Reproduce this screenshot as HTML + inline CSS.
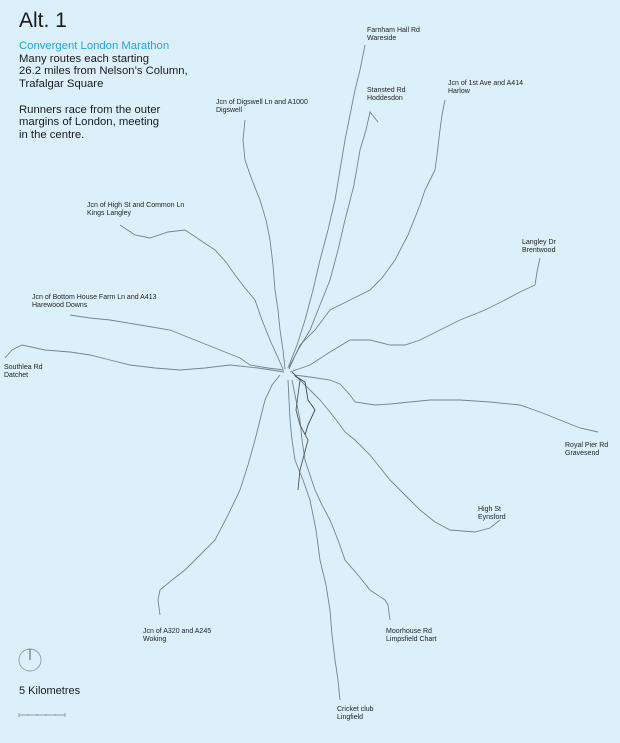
<!DOCTYPE html>
<html><head><meta charset="utf-8"><style>
html,body{margin:0;padding:0;background:#dcf0fb;}
body{width:620px;height:743px;position:relative;overflow:hidden;font-family:"Liberation Sans",sans-serif;color:#1a1a1a;}
.t{position:absolute;white-space:nowrap;}
.l{position:absolute;font-size:7px;line-height:8px;white-space:nowrap;color:#222;}
</style></head><body>
<div class="t" style="left:19px;top:9px;font-size:21px;">Alt. 1</div>
<div class="t" style="left:19px;top:40px;font-size:11.3px;line-height:12.7px;"><span style="color:#1aa8e6">Convergent London Marathon</span><br>Many routes each starting<br>26.2 miles from Nelson’s Column,<br>Trafalgar Square<br><br>Runners race from the outer<br>margins of London, meeting<br>in the centre.</div>
<svg width="620" height="743" style="position:absolute;left:0;top:0" fill="none" stroke="#75838a" stroke-width="0.9">
<polyline points="365,45 360,70 355,90 350,115 345,140 340,170 335,200 328,230 320,260 313,290 305,320 297,345 288,368"/>
<polyline points="378,122 370,112 366,130 360,150 354,185 345,220 338,250 330,280 320,305 310,330 298,350 289,367"/>
<polyline points="445,100 442,115 440,130 437,155 435,170 425,190 420,205 408,235 395,260 382,278 370,290 350,300 330,310 315,330 300,345 289,369"/>
<polyline points="245,120 243,140 245,160 252,180 260,200 266,220 270,240 273,265 275,290 278,310 280,330 283,350 285,369"/>
<polyline points="120,225 135,235 150,238 168,232 185,230 200,240 215,250 226,262 235,275 245,288 255,300 262,320 270,340 283,369"/>
<polyline points="70,315 90,318 110,320 140,325 170,330 195,340 220,350 240,358 250,365 268,368 284,370"/>
<polyline points="5,358 12,350 22,345 45,350 70,352 90,355 110,360 130,365 155,368 180,370 205,368 230,365 258,368 284,372"/>
<polyline points="540,258 537,272 535,285 520,292 505,300 485,310 460,320 440,330 420,340 405,345 390,345 370,340 350,340 330,352 310,365 290,372"/>
<polyline points="598,432 580,428 560,420 540,412 520,405 490,402 460,400 430,400 410,402 390,404 375,405 355,402 350,395 340,384 330,380 310,377 294,375"/>
<polyline points="500,520 490,528 475,532 450,530 435,522 420,510 405,495 390,480 378,465 370,455 355,440 345,432 340,425 330,412 320,400 310,390 300,380"/>
<polyline points="390,620 388,605 385,600 370,590 358,575 345,560 338,540 330,520 322,505 315,490 310,475 305,460 302,440 300,420 296,400 292,380"/>
<polyline points="340,700 338,680 335,660 332,635 330,610 326,585 320,560 316,530 310,500 303,480 295,460 292,440 290,420 289,400 288,380"/>
<polyline points="160,615 158,600 160,590 172,580 185,570 200,555 215,540 228,515 240,490 248,465 255,440 260,420 265,400 272,385 280,375"/>
<polyline points="292,372 300,380 298,395 296,410 300,425 308,440 304,455 300,470 298,490" stroke="#555"/>
<polyline points="295,376 305,382 308,400 315,410 308,425 305,435" stroke="#444"/>
<circle cx="30" cy="660" r="11" stroke="#999"/>
<line x1="30" y1="649" x2="30" y2="660" stroke="#444"/>
<line x1="19" y1="715" x2="65" y2="715" stroke="#999"/>
<g stroke="#999"><line x1="19" y1="713" x2="19" y2="717"/><line x1="28" y1="714" x2="28" y2="716"/><line x1="37" y1="714" x2="37" y2="716"/><line x1="46" y1="714" x2="46" y2="716"/><line x1="55" y1="714" x2="55" y2="716"/><line x1="65" y1="713" x2="65" y2="717"/></g>
</svg>
<div class="t" style="left:19px;top:685px;font-size:11px;">5 Kilometres</div>
<div class="l" style="left:367px;top:27px;">Farnham Hall Rd<br>Wareside</div>
<div class="l" style="left:367px;top:87px;">Stansted Rd<br>Hoddesdon</div>
<div class="l" style="left:448px;top:80px;">Jcn of 1st Ave and A414<br>Harlow</div>
<div class="l" style="left:216px;top:99px;">Jcn of Digswell Ln and A1000<br>Digswell</div>
<div class="l" style="left:87px;top:202px;">Jcn of High St and Common Ln<br>Kings Langley</div>
<div class="l" style="left:522px;top:239px;">Langley Dr<br>Brentwood</div>
<div class="l" style="left:32px;top:294px;">Jcn of Bottom House Farm Ln and A413<br>Harewood Downs</div>
<div class="l" style="left:4px;top:364px;">Southlea Rd<br>Datchet</div>
<div class="l" style="left:565px;top:442px;">Royal Pier Rd<br>Gravesend</div>
<div class="l" style="left:478px;top:506px;">High St<br>Eynsford</div>
<div class="l" style="left:143px;top:628px;">Jcn of A320 and A245<br>Woking</div>
<div class="l" style="left:386px;top:628px;">Moorhouse Rd<br>Limpsfield Chart</div>
<div class="l" style="left:337px;top:706px;">Cricket club<br>Lingfield</div>
</body></html>
